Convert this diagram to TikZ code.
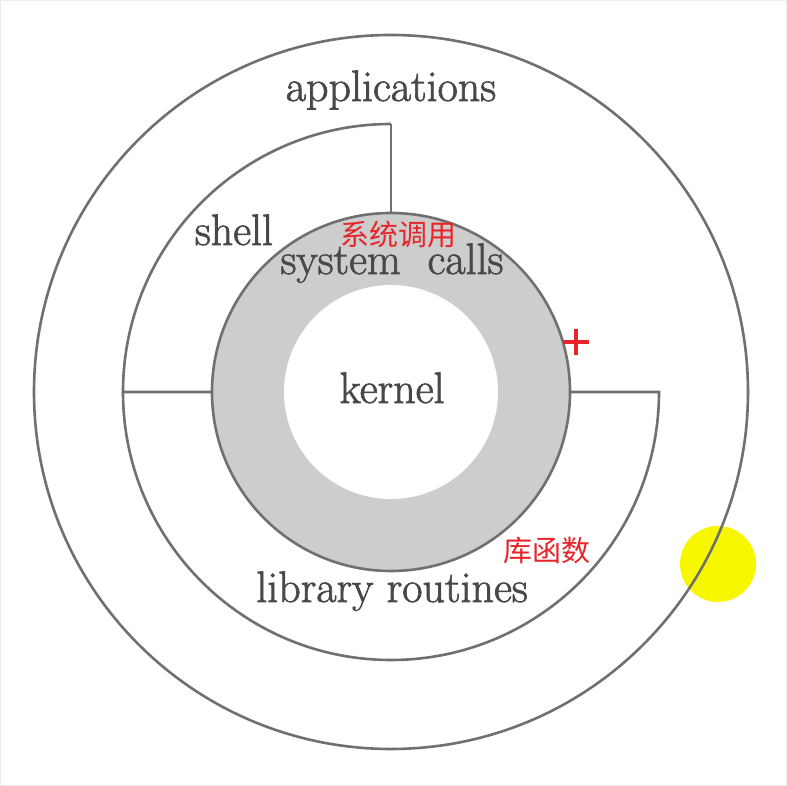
\documentclass[tikz,border=0pt]{standalone}
\usepackage{fontspec}
\newfontfamily\layerfont[BoldFont={Latin Modern Roman},BoldFeatures={FakeBold=1.6}]{Latin Modern Roman}
\newfontfamily\cjk{Noto Sans CJK SC}
\definecolor{ringline}{HTML}{707070}
\definecolor{layergray}{HTML}{484848}
\definecolor{syscallgray}{HTML}{CDCDCD}
\definecolor{notered}{HTML}{E8232A}
\definecolor{marker}{HTML}{F7F700}

\begin{document}
\begin{tikzpicture}[x=1pt,y=1pt,
  ring/.style={draw=ringline,line width=2.6pt},
  layertext/.style={text=layergray,font=\layerfont\bfseries\fontsize{44}{50}\selectfont,anchor=base},
  cjknote/.style={text=notered,font=\cjk\fontsize{29}{34}\selectfont}]
\tikzstyle{every node}+=[inner sep=0pt]
\useasboundingbox (-391,-394) rectangle (396,392);
\fill [white] (-391,-394) rectangle (396,392);
\draw [black!8,line width=1.5pt] (-390.25,-393.25) rectangle (395.25,391.25);
% highlight behind the outer ring
\fill [marker] (327,-172) circle (38);
\draw [ring] (0,0) circle (357);
\draw [ring,fill=syscallgray] (0,0) circle (179);
\fill [white] (0,0) circle (107);
% shell and library routines
\draw [ring] (0,268) arc (90:180:268) -- (-179,0);
\draw [ring] (-268,0) arc (180:360:268) -- (179,0);
\draw [ring] (0,268) -- (0,179);
\node [layertext] (apps) at (0,291) {applications};
\node [layertext] (shell) at (-157,147) {shell};
\node [layertext] (syscalls) at (1,118) {system\ \ calls};
\node [layertext] (kernel) at (1,-11) {kernel};
\node [layertext] (libs) at (1,-210) {library routines};
\node [cjknote] (syscallsnote) at (8,157) {系统调用};
\node [cjknote] (libsnote) at (156,-159) {库函数};
% red plus mark
\draw [notered,line width=4pt] (172,50) -- (198,50);
\draw [notered,line width=4pt] (185,37) -- (185,63);
\end{tikzpicture}
\end{document}
